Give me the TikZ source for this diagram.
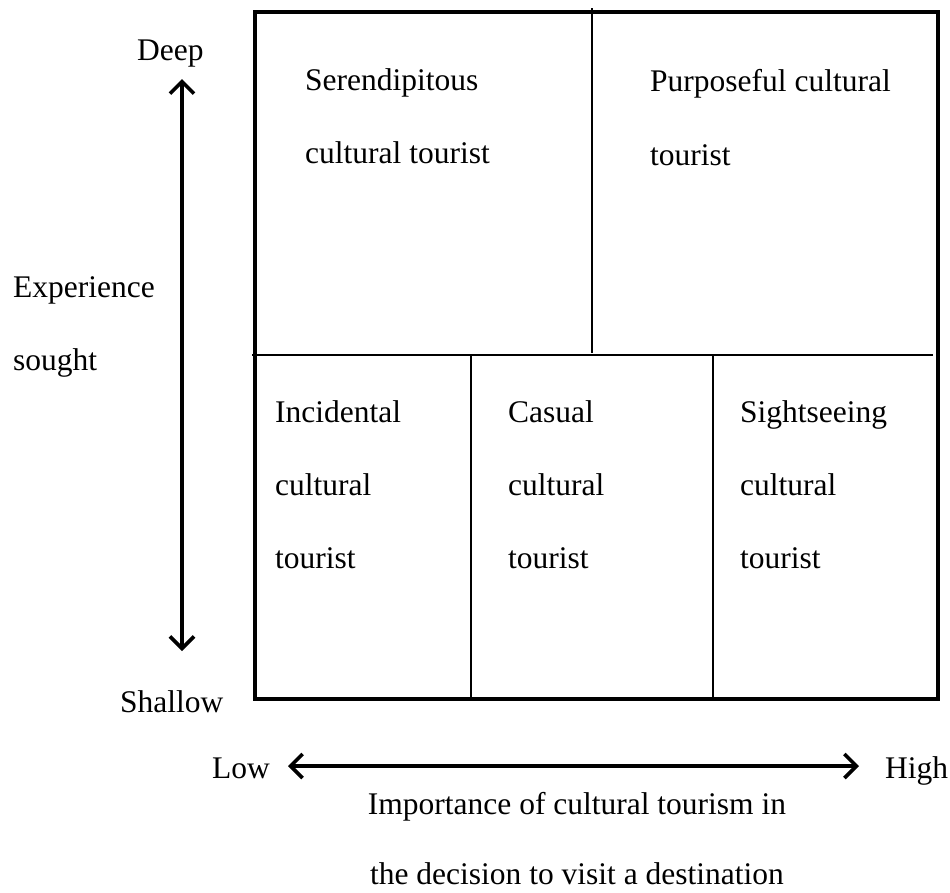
\documentclass[tikz,border=0pt]{standalone}
\usepackage{fontspec}
\setmainfont{Liberation Serif}
\usetikzlibrary{arrows.meta}
\begin{document}
\begin{tikzpicture}[x=1pt,y=-1pt,
  lbl/.style={inner sep=0pt,anchor=base west,font=\fontsize{31.5}{38}\selectfont},
  frame/.style={line width=3.2pt},
  divider/.style={line width=1.6pt},
  barb/.tip={Straight Barb[length=12pt,width=24pt,line width=3.6pt]},
  axis/.style={line width=3.6pt,barb-barb}]
\useasboundingbox (0,0) rectangle (950,892);
% outer frame and cell dividers
\draw[frame] (255,12) rectangle (938,699);
\draw[divider] (592,8) -- (592,353);
\draw[divider] (252,355) -- (933,355);
\draw[divider] (471,356) -- (471,699);
\draw[divider] (713,356) -- (713,699);
% quadrant labels
\node[lbl] (ser1) at (305,90) {Serendipitous};
\node[lbl] (ser2) at (305,163) {cultural tourist};
\node[lbl] (pur1) at (650,91) {Purposeful cultural};
\node[lbl] (pur2) at (650,165) {tourist};
\node[lbl] (inc1) at (275,422) {Incidental};
\node[lbl] (inc2) at (275,495) {cultural};
\node[lbl] (inc3) at (275,568) {tourist};
\node[lbl] (cas1) at (508,422) {Casual};
\node[lbl] (cas2) at (508,495) {cultural};
\node[lbl] (cas3) at (508,568) {tourist};
\node[lbl] (sig1) at (740,422) {Sightseeing};
\node[lbl] (sig2) at (740,495) {cultural};
\node[lbl] (sig3) at (740,568) {tourist};
% vertical axis
\node[lbl] (deep) at (137,60) {Deep};
\node[lbl] (shallow) at (120,712) {Shallow};
\node[lbl] (exp1) at (13,297) {Experience};
\node[lbl] (exp2) at (13,370) {sought};
\coordinate (vtop) at (182,79);
\coordinate (vbot) at (182,651);
\draw[axis] (vtop) -- (vbot);
% horizontal axis
\node[lbl] (low) at (212,778) {Low};
\node[lbl] (high) at (885,778) {High};
\coordinate (hleft) at (288,766);
\coordinate (hright) at (859,766);
\draw[axis] (hleft) -- (hright);
\node[lbl,anchor=base] (imp1) at (577,814) {Importance of cultural tourism in};
\node[lbl,anchor=base] (imp2) at (577,884) {the decision to visit a destination};
\end{tikzpicture}
\end{document}
